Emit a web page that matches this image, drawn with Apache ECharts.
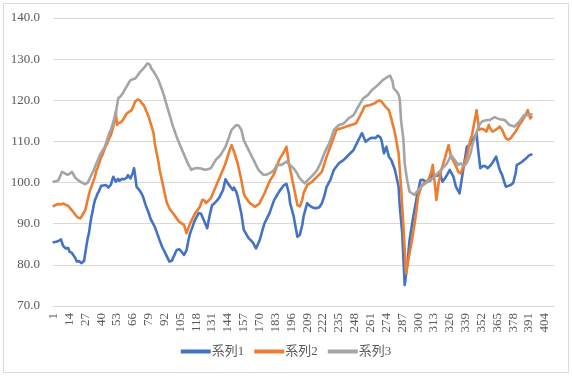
<!DOCTYPE html>
<html>
<head>
<meta charset="utf-8">
<script src="https://cdn.jsdelivr.net/npm/echarts@6/dist/echarts.min.js"></script>
<style>
html,body{margin:0;padding:0;background:#fff;}
#c{width:572px;height:379px;}
</style>
</head>
<body>
<div id="c"></div>
<script>
const categoryCount = 411;
const categories = [];
for (let i = 1; i <= categoryCount; i++) categories.push(String(i));

const seriesNames = ['系列1', '系列2', '系列3'];

const series1 = [
85.5,85.7,85.6,86.0,85.8,86.1,86.2,85.3,84.5,84.3,
84.0,83.8,84.1,83.2,83.5,82.9,82.6,82.0,81.5,80.8,
81.2,80.9,80.6,80.4,80.7,81.0,82.9,84.8,86.5,87.7,
89.8,91.7,93.0,94.6,95.8,96.5,97.3,97.8,98.5,99.2,
99.6,99.3,99.0,99.4,99.0,98.8,98.6,99.5,100.6,101.4,
100.8,100.2,100.5,100.9,100.4,100.6,100.9,100.5,100.8,100.6,
101.2,101.8,101.5,101.0,101.4,102.4,103.5,101.5,99.0,98.7,
98.3,97.9,97.4,96.8,96.0,95.0,94.1,93.4,92.6,91.7,
90.9,90.4,89.8,89.2,88.5,87.6,86.8,85.9,85.2,84.4,
83.8,83.2,82.6,82.0,81.4,80.8,81.2,81.0,81.7,82.3,
83.0,83.6,84.0,83.8,83.5,83.2,82.8,82.4,82.0,83.5,
85.0,86.5,87.7,88.5,89.3,90.2,90.9,91.5,92.0,92.6,
93.0,92.4,91.7,91.0,90.3,89.6,88.9,90.5,92.0,93.3,
94.5,94.8,95.0,95.3,95.6,95.8,96.4,97.0,97.6,98.2,
99.5,100.8,100.3,99.8,99.4,99.0,98.6,98.2,98.8,98.6,
97.6,96.6,95.2,93.8,92.5,90.5,88.5,88.0,87.5,87.0,
86.5,86.2,85.9,85.5,85.2,84.5,84.0,84.6,85.3,86.0,
87.0,88.1,89.1,90.1,90.7,91.3,91.9,92.5,93.3,94.2,
95.0,95.8,96.3,96.8,97.3,97.8,98.2,98.6,99.0,99.4,
99.6,99.7,99.8,97.4,95.0,93.9,92.8,91.7,90.0,88.4,
86.8,87.0,87.3,87.7,89.7,91.7,92.8,93.9,95.0,94.7,
94.4,94.1,94.0,93.9,93.8,93.7,93.8,93.9,94.0,94.1,
94.9,95.8,96.6,97.8,99.0,99.5,100.1,100.6,101.5,102.3,
103.1,103.5,103.9,104.3,104.7,104.9,105.1,105.3,105.5,105.8,
106.1,106.4,106.7,107.0,107.3,107.6,107.9,108.5,109.1,109.7,
110.3,110.9,111.5,112.0,111.3,110.6,109.9,110.1,110.4,110.6,
110.8,110.7,110.9,110.8,110.8,111.1,111.4,111.6,111.0,110.3,
108.7,107.1,107.9,108.7,107.5,106.3,105.9,105.5,104.7,103.9,
103.1,101.7,100.4,99.0,94.1,90.9,87.7,81.2,75.1,77.4,
79.6,82.8,86.0,87.9,89.8,91.7,93.3,94.9,96.6,97.9,
99.3,100.6,101.0,100.7,100.5,100.2,100.3,100.3,100.4,100.4,
101.3,102.2,101.9,101.7,101.4,101.7,102.0,102.2,101.2,100.2,
100.6,101.0,101.4,102.0,102.5,103.1,102.5,102.0,101.4,100.2,
99.0,98.5,97.9,97.4,99.3,101.2,103.1,105.0,106.8,108.7,
108.9,109.1,109.5,109.9,110.3,110.9,111.5,112.0,108.7,106.1,
103.5,103.8,104.0,104.3,104.0,103.7,103.5,103.8,104.0,104.3,
104.8,105.3,105.8,106.3,105.2,104.1,103.1,102.4,101.8,100.8,
99.9,99.0,99.1,99.2,99.3,99.4,99.7,99.9,100.2,102.2,
104.3,104.4,104.6,104.7,105.0,105.2,105.5,105.8,106.0,106.3,
106.6,107.0,106.8
];

const series2 = [
94.3,94.1,94.6,94.4,94.8,95.0,94.7,95.0,94.9,94.8,
94.6,94.8,94.3,94.0,93.6,93.3,92.9,92.5,92.1,91.7,
91.5,91.9,91.3,91.7,92.3,92.8,93.3,94.6,95.9,97.2,
98.2,99.0,99.8,100.2,101.5,102.8,103.5,104.4,105.3,106.2,
106.7,107.5,108.3,109.0,109.5,110.3,111.0,111.6,112.6,113.6,
115.5,117.2,114.0,114.5,114.2,114.6,114.8,115.3,115.8,116.3,
116.8,117.0,117.2,117.4,117.6,118.3,119.0,119.7,119.9,120.2,
120.5,119.9,119.4,119.1,118.8,118.1,117.4,116.7,116.0,115.0,
114.0,113.0,112.0,109.5,108.0,106.5,105.0,103.1,101.7,100.3,
99.0,97.6,96.2,95.0,94.4,93.7,93.3,92.9,92.5,92.1,
91.7,91.3,90.9,90.5,90.3,90.1,89.9,89.7,88.7,87.7,
88.5,89.3,90.1,90.7,91.3,91.9,92.5,92.9,93.3,93.7,
94.1,95.0,95.8,96.2,95.6,95.0,95.3,95.6,95.9,96.2,
96.9,97.6,98.3,99.0,99.7,100.4,101.1,101.8,102.5,103.2,
103.9,104.7,105.6,106.6,107.5,108.3,109.1,108.3,107.5,106.6,
105.6,104.7,103.3,102.0,100.6,99.0,97.4,96.6,96.2,95.8,
95.4,95.0,94.8,94.6,94.3,94.1,94.3,94.5,94.8,95.0,
95.6,96.2,96.8,97.4,98.1,98.8,99.5,100.2,100.7,101.2,
101.7,102.2,103.0,103.8,104.7,105.5,106.0,106.5,107.0,107.5,
108.1,108.7,106.7,104.7,103.3,101.9,100.4,99.0,97.5,96.0,
94.5,94.3,94.2,94.1,95.8,97.4,98.1,98.7,99.4,99.6,
99.8,100.0,100.2,100.5,100.8,101.1,101.4,101.7,102.0,102.3,
102.6,103.5,104.4,105.4,106.3,107.1,107.9,108.7,109.5,110.3,
111.1,111.9,112.8,112.9,113.0,113.1,113.2,113.3,113.4,113.5,
113.6,113.7,113.8,113.9,114.0,114.1,114.2,114.3,114.4,114.9,
115.5,116.0,116.6,117.2,117.8,118.5,118.6,118.7,118.8,118.8,
118.9,119.0,119.1,119.2,119.4,119.6,119.8,120.0,120.1,119.7,
119.3,118.9,118.5,118.2,117.9,117.6,116.6,115.6,114.4,113.2,
112.0,110.4,108.7,107.1,103.0,99.0,94.1,89.3,83.6,77.9,
79.5,81.2,82.8,84.4,86.0,87.9,89.8,91.7,94.1,96.6,
97.5,98.5,99.4,99.6,99.8,100.0,100.2,100.6,101.0,101.4,
102.8,104.3,101.6,99.0,95.8,98.0,100.2,101.6,103.1,104.0,
105.0,105.9,107.0,108.1,109.1,107.7,106.3,105.8,105.2,104.7,
104.0,103.3,102.6,102.4,102.2,103.0,103.9,104.7,105.6,106.5,
107.5,109.3,110.5,111.2,112.8,114.4,116.0,117.6,115.2,112.8,
113.0,113.1,113.2,112.9,112.7,112.4,113.2,114.0,113.2,112.8,
112.4,112.5,112.7,112.8,113.1,113.4,113.6,113.2,112.8,112.1,
111.4,110.8,110.6,110.4,110.3,110.8,111.2,111.6,112.0,112.4,
112.9,113.5,114.0,114.4,114.8,115.2,115.8,116.4,117.0,117.6,
116.6,115.6,116.0
];

const series3 = [
100.2,99.8,100.3,100.5,100.6,101.3,102.0,102.6,102.4,102.3,
102.2,101.9,101.8,102.1,102.4,102.6,102.2,101.6,101.1,100.9,
100.6,100.4,100.2,100.0,99.9,99.8,99.6,99.8,100.0,100.2,
101.2,101.9,102.2,103.0,103.9,104.6,105.3,106.0,106.7,107.2,
107.7,108.2,108.7,109.6,110.5,111.4,112.3,112.8,113.8,114.8,
115.8,116.8,118.6,120.5,120.8,121.0,121.3,121.8,122.4,122.9,
123.4,123.9,124.4,124.9,125.0,125.1,125.2,125.3,125.7,126.1,
126.5,126.9,127.2,127.5,127.8,128.2,128.6,129.0,129.4,128.6,
127.8,127.4,127.0,126.6,126.0,125.5,124.9,124.1,123.3,122.5,
121.7,120.7,119.6,118.6,117.6,116.6,115.6,114.6,113.6,112.8,
111.9,111.1,110.3,109.6,108.9,108.2,107.5,106.8,106.1,105.4,
104.7,104.2,103.6,103.1,103.3,103.4,103.5,103.5,103.4,103.5,
103.5,103.4,103.3,103.2,103.1,103.1,103.2,103.3,103.4,103.5,
104.0,104.5,105.0,105.5,105.8,106.1,106.4,106.7,107.2,107.7,
108.2,108.7,109.5,110.3,111.1,112.0,112.8,113.1,113.4,113.7,
114.0,114.2,113.8,113.3,112.8,111.6,110.3,109.7,109.1,108.5,
107.9,107.3,106.7,106.1,105.5,104.9,104.3,103.7,103.1,102.8,
102.5,102.2,101.9,101.8,101.9,102.0,102.1,102.2,102.4,102.6,
102.8,103.1,103.6,104.3,104.3,104.3,104.3,104.3,104.5,104.7,
104.9,105.1,104.8,104.5,104.3,104.0,103.7,103.4,103.1,102.6,
102.1,101.5,101.0,100.7,100.4,100.1,99.8,100.1,100.4,100.7,
101.0,101.3,101.6,101.9,102.2,102.6,103.0,103.5,103.9,104.7,
105.5,106.3,107.1,107.7,108.3,108.9,109.5,110.3,111.1,112.0,
112.8,113.1,113.4,113.7,114.0,114.1,114.2,114.3,114.4,114.7,
115.0,115.3,115.6,115.8,116.0,116.2,116.4,116.9,117.4,118.0,
118.5,119.0,119.5,120.0,120.5,120.7,120.9,121.1,121.3,121.7,
122.1,122.5,122.7,123.0,123.2,123.5,123.7,124.0,124.3,124.6,
124.9,125.1,125.3,125.5,125.7,125.9,126.0,126.2,124.6,122.9,
122.6,122.3,122.1,121.4,120.1,115.2,112.8,110.3,104.7,102.6,
100.6,99.2,97.8,97.6,97.4,97.2,97.0,97.4,97.8,98.2,
98.5,98.8,99.1,99.4,99.6,99.8,100.0,100.2,100.4,100.6,
100.8,101.0,101.3,101.6,101.9,102.2,102.5,102.8,103.1,103.5,
103.8,104.1,104.4,104.7,105.4,106.0,106.7,106.3,105.9,105.5,
105.1,104.7,104.3,104.5,104.7,104.4,104.1,103.9,104.4,104.9,
105.5,106.3,107.1,108.4,109.7,110.3,111.3,112.2,113.2,113.8,
114.4,114.8,114.9,115.0,115.1,115.2,115.2,115.2,115.2,115.2,
115.6,116.0,115.9,115.7,115.6,115.5,115.4,115.3,115.3,115.2,
115.2,114.9,114.6,114.3,114.0,113.9,113.8,113.7,113.6,113.9,
114.2,114.4,114.8,115.2,115.6,116.0,116.4,116.4,116.4,116.4,
116.4,116.4,116.6
];

const yTicks = { min: 70, max: 140, interval: 10 };
const colors = ['#4472C4', '#ED7D31', '#A5A5A5'];
const FONT = '"Liberation Serif", "Noto Sans CJK JP", serif';

const chart = echarts.init(document.getElementById('c'), null, { renderer: 'canvas' });
const seriesData = [series1, series2, series3];

chart.setOption({
  animation: false,
  backgroundColor: '#ffffff',
  color: colors,
  graphic: [{
    type: 'rect',
    shape: { x: 3.5, y: 3.5, width: 565, height: 369 },
    style: { fill: 'none', stroke: '#D9D9D9', lineWidth: 1 },
    silent: true
  }],
  grid: { left: 53, right: 18, top: 18, bottom: 73, containLabel: false },
  xAxis: {
    type: 'category',
    data: categories,
    boundaryGap: true,
    axisLine: { show: true, lineStyle: { color: '#D9D9D9', width: 1 } },
    axisTick: { show: false },
    axisLabel: {
      interval: 12,
      rotate: 90,
      margin: 7,
      color: '#595959',
      fontSize: 13,
      fontFamily: FONT
    },
    splitLine: { show: false }
  },
  yAxis: {
    type: 'value',
    min: yTicks.min,
    max: yTicks.max,
    interval: yTicks.interval,
    axisLine: { show: false },
    axisTick: { show: false },
    axisLabel: {
      color: '#595959',
      fontSize: 13,
      fontFamily: FONT,
      margin: 13,
      formatter: v => v.toFixed(1)
    },
    splitLine: { lineStyle: { color: '#D9D9D9', width: 1 } }
  },
  legend: {
    data: seriesNames,
    bottom: 16,
    left: 'center',
    itemWidth: 30,
    itemHeight: 4,
    itemGap: 10,
    icon: 'rect',
    textStyle: { color: '#595959', fontSize: 13, fontFamily: FONT, padding: [0, 0, 0, -4] }
  },
  series: seriesNames.map((name, k) => ({
    name: name,
    type: 'line',
    data: seriesData[k],
    symbol: 'none',
    showSymbol: false,
    smooth: false,
    lineStyle: { color: colors[k], width: 2.6, join: 'round', cap: 'round' },
    itemStyle: { color: colors[k] },
    emphasis: { disabled: true }
  }))
});
</script>
</body>
</html>
